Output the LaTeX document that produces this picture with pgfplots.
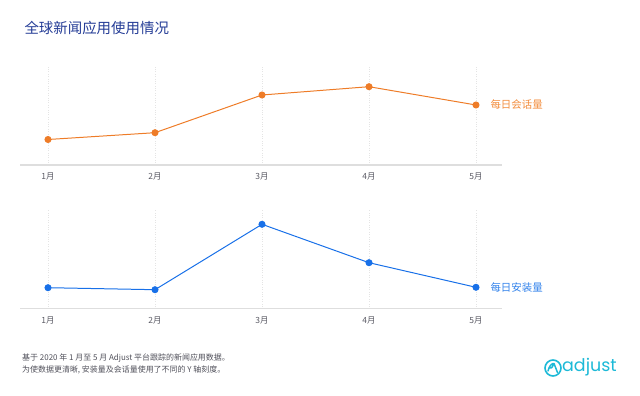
\documentclass[border=0pt]{standalone}
\usepackage{pgfplots}
\pgfplotsset{compat=1.18}
\usepackage{fontspec}
\setmainfont{Noto Sans CJK SC}
\newfontfamily\logofont{Poppins}
\definecolor{titleblue}{RGB}{36,60,150}
\definecolor{sess}{RGB}{238,124,40}
\definecolor{sesslab}{RGB}{242,140,60}
\definecolor{inst}{RGB}{24,112,232}
\definecolor{instlab}{RGB}{50,130,235}
\definecolor{axisgray}{RGB}{222,222,222}
\definecolor{gridgray}{RGB}{228,228,228}
\definecolor{ticktext}{RGB}{90,90,100}
\definecolor{notetext}{RGB}{80,80,90}
\definecolor{logocyan}{RGB}{28,185,215}
\pgfplotsset{
  minichart/.style={
    scale only axis,
    width=482bp, height=100bp,
    xmin=-0.2617, xmax=4.243,
    ymin=0, ymax=100,
    axis x line*=bottom,
    axis y line=none,
    axis line style={draw=axisgray, line width=1.1pt, -},
    xtick={0,1,2,3,4},
    xticklabels={1月,2月,3月,4月,5月},
    major tick length=0pt,
    xmajorgrids,
    grid style={dotted, draw=gridgray, line width=0.7pt},
    xticklabel style={font=\fontsize{8.5}{10}\selectfont, text=ticktext, yshift=-4.5bp},
    clip=false,
  }
}
\begin{document}
\begin{tikzpicture}
\useasboundingbox (0,0) rectangle (640bp,396bp);
\node[anchor=west, font=\fontsize{14.5}{16}\selectfont, text=titleblue] at (21bp,368bp) {全球新闻应用使用情况};

% top chart: daily sessions
\begin{axis}[minichart, at={(20bp,231bp)}, anchor=south west]
\addplot[sess, line width=1pt, mark=*, mark size=3bp, mark options={fill=sess, draw=sess}]
  coordinates {(0,25.5) (1,32.3) (2,70) (3,78.3) (4,60)};
\node[anchor=west, text=sesslab, font=\fontsize{10.5}{12}\selectfont] at (axis cs:4,60) [xshift=11bp] {每日会话量};
\end{axis}

% bottom chart: daily installs
\begin{axis}[minichart, at={(20bp,87.3bp)}, anchor=south west]
\addplot[inst, line width=1pt, mark=*, mark size=3bp, mark options={fill=inst, draw=inst}]
  coordinates {(0,21) (1,19) (2,84.4) (3,46) (4,21.4)};
\node[anchor=west, text=instlab, font=\fontsize{10.5}{12}\selectfont] at (axis cs:4,21.4) [xshift=11bp] {每日安装量};
\end{axis}

\node[anchor=west, font=\fontsize{8}{9}\selectfont, text=notetext, inner sep=0pt] at (22bp,38bp) {基于 2020 年 1 月至 5 月 Adjust 平台跟踪的新闻应用数据。};
\node[anchor=west, font=\fontsize{8}{9}\selectfont, text=notetext, inner sep=0pt] at (22bp,26bp) {为使数据更清晰, 安装量及会话量使用了不同的 Y 轴刻度。};

% logo
\draw[logocyan, line width=1.6pt] (553bp,28bp) circle (8bp);
\draw[logocyan, line width=1.5pt, line join=round, line cap=round]
  (548bp,25bp) .. controls (549bp,30bp) and (552bp,33bp) .. (554bp,32.5bp)
  -- (557.5bp,23.5bp) (554bp,32.5bp) .. controls (552bp,28bp) and (551bp,27bp) .. (549.5bp,28bp);
\node[anchor=west, inner sep=0pt, text=logocyan, font=\logofont\fontsize{17.5}{19}\selectfont] at (562bp,29bp) {adjust};
\end{tikzpicture}
\end{document}
